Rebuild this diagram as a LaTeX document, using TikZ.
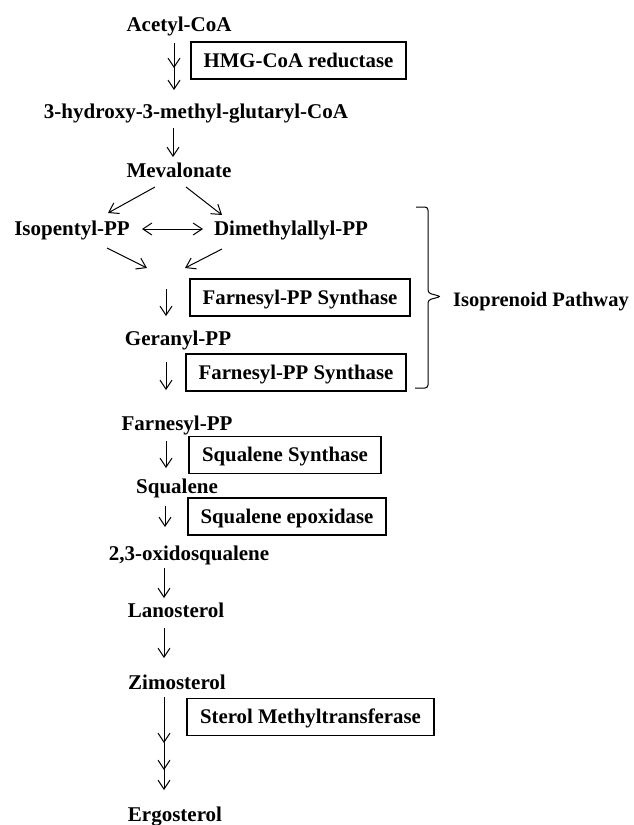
\documentclass[tikz,border=0pt]{standalone}
\usepackage{fontspec}
\setmainfont{Liberation Serif}
\usepackage{tikz}
\usetikzlibrary{arrows.meta}
\tikzset{
	% metabolites: plain bold text, enzymes: framed bold text
	metab/.style={inner sep=0pt,anchor=base,font=\fontsize{21}{24}\selectfont\bfseries},
	enzyme/.style={draw,line width=1.1pt,inner sep=0pt,minimum height=37pt,text height=13.9pt,text depth=0pt,font=\fontsize{20.8}{24}\selectfont\bfseries},
	conv/.style={-{Straight Barb[length=9pt,width=12pt,line width=1pt]},line width=1pt},
	conv both/.style={{Straight Barb[length=9pt,width=12pt,line width=1pt]}-{Straight Barb[length=9pt,width=12pt,line width=1pt]},line width=1pt}
}
\begin{document}
\begin{tikzpicture}[x=1pt,y=-1pt]
				\useasboundingbox (0,0) rectangle (633,825);
				% macro for an arrow between two named points
				\newcommand{\reac}[3][conv]{\draw[#1](#2)--(#3);}
				
				\node(acetyl)[metab] at (179,31){Acetyl-CoA};
				\node(hmgcoa)[metab] at (196,118){3-hydroxy-3-methyl-glutaryl-CoA};
				\node(mev)[metab] at (179,177){Mevalonate};
				\node(ipp)[metab] at (72,235){Isopentyl-PP};
				\node(dmapp)[metab] at (291,235){Dimethylallyl-PP};
				\node(gpp)[metab] at (178,345){Geranyl-PP};
				\node(fpp)[metab] at (177,430){Farnesyl-PP};
				\node(sq)[metab] at (177,493){Squalene};
				\node(oxsq)[metab] at (189,560){2,3-oxidosqualene};
				\node(lan)[metab] at (176,617){Lanosterol};
				\node(zim)[metab] at (177,689){Zimosterol};
				\node(erg)[metab] at (175,821){Ergosterol};
				
				\node(e-1)[enzyme,minimum width=215pt] at (298.5,60.5){HMG-CoA reductase};
				\node(e-2)[enzyme,minimum width=220pt] at (300,297.5){Farnesyl-PP Synthase};
				\node(e-3)[enzyme,minimum width=220pt] at (296,372.5){Farnesyl-PP Synthase};
				\node(e-4)[enzyme,minimum width=192pt] at (285,455){Squalene Synthase};
				\node(e-5)[enzyme,minimum width=198pt] at (287,516.5){Squalene epoxidase};
				\node(e-6)[enzyme,minimum width=247pt] at (310.5,717){Sterol Methyltransferase};
				
				% end points of the arrows
				\coordinate(a-0) at (174,43);
				\coordinate(a-1) at (174,68);
				\coordinate(a-2) at (174,90);
				\coordinate(b-0) at (173,128);
				\coordinate(b-1) at (173,157);
				\coordinate(c-0) at (155,187);
				\coordinate(c-1) at (108,213);
				\coordinate(c-2) at (186,187);
				\coordinate(c-3) at (222,215);
				\coordinate(d-0) at (142,229);
				\coordinate(d-1) at (203,229);
				\coordinate(f-0) at (107,248);
				\coordinate(f-1) at (147,268);
				\coordinate(f-2) at (222,249);
				\coordinate(f-3) at (185,268);
				\coordinate(g-0) at (166,289);
				\coordinate(g-1) at (166,316);
				\coordinate(h-0) at (166,362);
				\coordinate(h-1) at (166,390);
				\coordinate(i-0) at (166,441);
				\coordinate(i-1) at (166,468);
				\coordinate(j-0) at (165,506);
				\coordinate(j-1) at (165,527);
				\coordinate(k-0) at (164,568);
				\coordinate(k-1) at (164,598);
				\coordinate(l-0) at (164,628);
				\coordinate(l-1) at (164,658);
				\coordinate(m-0) at (164,697);
				\coordinate(m-1) at (164,743);
				\coordinate(m-2) at (164,770);
				\coordinate(m-3) at (164,790);
				
				\reac{a-0}{a-2}
				\reac{a-0}{a-1}
				\reac{b-0}{b-1}
				\reac{c-0}{c-1}
				\reac{c-2}{c-3}
				\reac[conv both]{d-0}{d-1}
				\reac{f-0}{f-1}
				\reac{f-2}{f-3}
				\reac{g-0}{g-1}
				\reac{h-0}{h-1}
				\reac{i-0}{i-1}
				\reac{j-0}{j-1}
				\reac{k-0}{k-1}
				\reac{l-0}{l-1}
				\reac{m-0}{m-3}
				\reac{m-0}{m-2}
				\reac{m-0}{m-1}
				
				% brace round the isoprenoid steps
				\draw[line width=1pt,rounded corners=3pt](416,207)--(428,207)--(428,293)--(441,296.5)--(428,300)--(428,388)--(415,388);
				\node(iso)[metab,anchor=base west,font=\fontsize{20.5}{24}\selectfont\bfseries] at (453,306){Isoprenoid Pathway};
			\end{tikzpicture}
\end{document}
